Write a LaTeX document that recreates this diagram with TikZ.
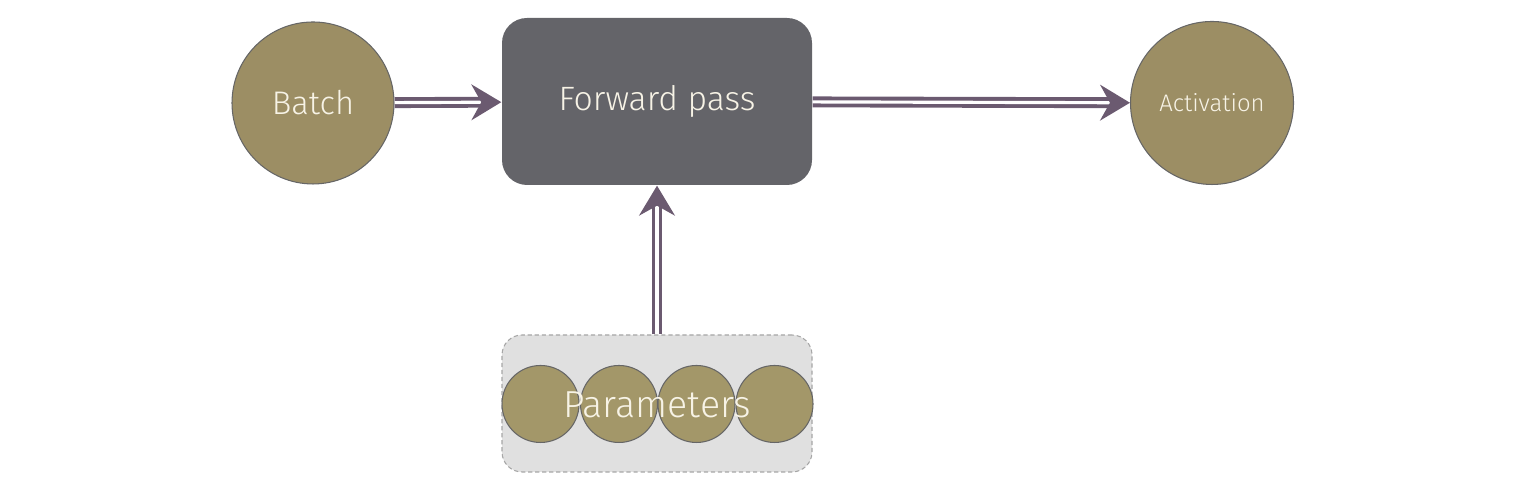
\documentclass[tikz,border=0pt]{standalone}
\usepackage{fontspec}
\IfFontExistsTF{Fira Sans Book}{\setmainfont{Fira Sans}[UprightFont=* Book]}{\setmainfont{Fira Sans}[UprightFont=* Light]}
\usetikzlibrary{arrows.meta,decorations.markings}
\definecolor{olive}{HTML}{9C8E64}
\definecolor{oliveparam}{HTML}{A39769}
\definecolor{passgray}{HTML}{646469}
\definecolor{arrowpurple}{HTML}{6B5A70}
\definecolor{boxgray}{HTML}{E0E0E0}
\definecolor{labelwhite}{HTML}{F7F3E6}
\tikzset{
  datacircle/.style = {circle, draw = black!60, line width = 0.3pt, fill = olive, inner sep = 0pt},
  dblarrow/.style = {draw = arrowpurple, double = white, double distance = 0.9pt, line width = 1.1pt,
    shorten > = 2mm, postaction = {decorate},
    decoration = {markings, mark = at position 1 with {\pgfsetinnerlinewidth{0pt}%
      \arrow[line width = 0.5pt, arrowpurple]{Stealth[length = 3mm, width = 3.6mm, inset = 1mm]}}}},
}
\begin{document}
\begin{tikzpicture}
        \useasboundingbox (0,0) rectangle (15.36,4.95);
        %Batch
        \node [datacircle, minimum size = 1.62cm, text = labelwhite, font = \fontsize{9.3}{11}\selectfont]
        (batch)at(3.13,3.92){Batch};
        %Forward pass
        \node [fill = passgray, rounded corners = 0.25cm, minimum width = 3.1cm, minimum height = 1.67cm,
        text = labelwhite, font = \fontsize{9.6}{11}\selectfont]
        (fwd)at(6.57,3.935){Forward pass};
        %Activation
        \node [datacircle, minimum size = 1.63cm, text = labelwhite, font = \fontsize{6.8}{8}\selectfont]
        (act)at(12.12,3.92){Activation};
        %Parameters
        \node [draw = gray!70, dash pattern = on 1.2pt off 0.8pt, line width = 0.3pt, fill = boxgray,
        rounded corners = 0.2cm, minimum width = 3.1cm, minimum height = 1.37cm]
        (params)at(6.57,0.915){};
        \node [datacircle, fill = oliveparam, minimum size = 0.77cm]
        (p1)at(5.405,0.91){};
        \node [datacircle, fill = oliveparam, minimum size = 0.77cm]
        (p2)at(6.19,0.91){};
        \node [datacircle, fill = oliveparam, minimum size = 0.77cm]
        (p3)at(6.965,0.91){};
        \node [datacircle, fill = oliveparam, minimum size = 0.77cm]
        (p4)at(7.745,0.91){};
        \node [text = labelwhite, font = \fontsize{10.7}{12}\selectfont]
        (plabel)at(6.57,0.9){Parameters};

        \draw [dblarrow](batch)--(fwd);
        \draw [dblarrow](fwd)--(act);
        \draw [dblarrow](params)--(fwd);

    \end{tikzpicture}
\end{document}
